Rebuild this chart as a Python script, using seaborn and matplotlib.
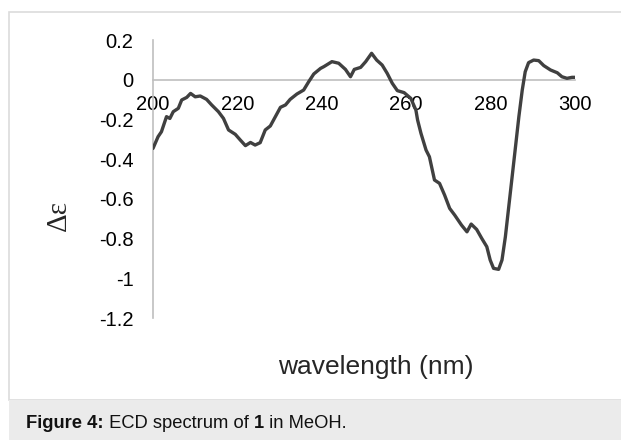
import matplotlib
matplotlib.use("Agg")
import matplotlib.pyplot as plt
import matplotlib.patches as mpatches
import numpy as np
import pandas as pd
import seaborn as sns

# ECD spectrum
wavelength = [
    200, 201.2, 202, 203.2, 204, 204.8, 206, 206.8, 208, 208.9,
    210, 211.2, 212.7, 213.9, 215.5, 216.7, 217.9, 219.5, 220.7, 221.9,
    223.1, 224.2, 225.4, 226.6, 227.8, 229, 230.2, 231.4, 232.5, 234.1,
    235.7, 236.9, 238.1, 239.7, 240.5, 242.4, 244, 245.6, 246.8, 247.7,
    249.2, 250.4, 251.8, 253, 254.3, 255.5, 256.7, 257.9, 259.5, 261.1,
    262.3, 262.7, 263.5, 264.7, 265.5, 266.7, 267.9, 269.1, 270.3, 271.5,
    273.1, 274.4, 275.4, 276.7, 277.9, 279.1, 279.9, 280.7, 281.9, 282.7,
    283.5, 284.3, 285.1, 285.9, 286.7, 287.5, 288.2, 289, 290.2, 291.4,
    292.6, 294.2, 295.8, 296.9, 298.1, 299.3, 300,
]
delta_eps = [
    -0.346, -0.287, -0.262, -0.186, -0.195, -0.161, -0.144, -0.102, -0.089, -0.069,
    -0.086, -0.082, -0.099, -0.127, -0.161, -0.195, -0.253, -0.275, -0.304, -0.332,
    -0.316, -0.329, -0.317, -0.253, -0.233, -0.186, -0.139, -0.127, -0.099, -0.072,
    -0.052, -0.010, 0.029, 0.057, 0.066, 0.091, 0.083, 0.052, 0.015, 0.052,
    0.062, 0.091, 0.133, 0.099, 0.074, 0.032, -0.018, -0.055, -0.065, -0.094,
    -0.153, -0.203, -0.270, -0.354, -0.388, -0.505, -0.522, -0.581, -0.648, -0.682,
    -0.732, -0.766, -0.727, -0.754, -0.799, -0.841, -0.908, -0.950, -0.955, -0.908,
    -0.791, -0.640, -0.489, -0.338, -0.186, -0.052, 0.040, 0.086, 0.099, 0.096,
    0.071, 0.049, 0.035, 0.015, 0.007, 0.012, 0.012,
]
x_ticks = [200, 220, 240, 260, 280, 300]
y_ticks = [0.2, 0, -0.2, -0.4, -0.6, -0.8, -1, -1.2]
y_ticklabels = ["0.2", "0", "-0.2", "-0.4", "-0.6", "-0.8", "-1", "-1.2"]

sns.set_theme(style="white")
plt.rcParams["font.family"] = ["Liberation Sans", "DejaVu Sans"]

df = pd.DataFrame({"wavelength": wavelength, "de": delta_eps})

fig = plt.figure(figsize=(6.21, 4.40), dpi=100)
fig.patch.set_facecolor("white")

# page frame and caption band
fig.patches.append(mpatches.Rectangle((9 / 621, 40 / 440), 1.0, 1 - 12 / 440 - 40 / 440,
                                      transform=fig.transFigure, facecolor="white",
                                      edgecolor="#dcdcdc", linewidth=1.2, zorder=-5))
fig.patches.append(mpatches.Rectangle((9 / 621, 0), 1.0, 40 / 440,
                                      transform=fig.transFigure, facecolor="#ebebeb",
                                      edgecolor="none", zorder=-5))

ax = fig.add_axes([153 / 621, 1 - 318 / 440, (575 - 153) / 621, (318 - 40) / 440])
ax.set_facecolor("none")
ax.set_zorder(2)

sns.lineplot(data=df, x="wavelength", y="de", ax=ax, color="#404040",
             linewidth=2.4, estimator=None, sort=False)

ax.set_xlim(200, 300)
ax.set_ylim(-1.2, 0.2)
ax.set_xticks(x_ticks)
ax.set_xticklabels([str(t) for t in x_ticks])
ax.set_yticks(y_ticks)
ax.set_yticklabels(y_ticklabels)

for side in ["top", "right"]:
    ax.spines[side].set_visible(False)
ax.spines["bottom"].set_position(("data", 0))
ax.spines["left"].set_position(("data", 200))
for side in ["bottom", "left"]:
    ax.spines[side].set_color("#bfbfbf")
    ax.spines[side].set_linewidth(1.2)
    ax.spines[side].set_zorder(1)

ax.tick_params(axis="x", length=0, pad=11, labelsize=14.5, colors="black")
ax.tick_params(axis="y", length=0, pad=14, labelsize=14.5, colors="black")
ax.grid(False)

ax.set_xlabel("wavelength (nm)", fontsize=19)
ax.xaxis.set_label_coords((376 - 153) / 422, (318 - 367) / 278)
ax.xaxis.label.set_va("center")
ax.set_ylabel("")

fig.text(59 / 621, 1 - 215 / 440, "Δε", rotation=90, ha="center", va="center",
         fontsize=21, family=["Liberation Serif", "DejaVu Serif"])

# caption with bold pieces
pieces = [("Figure 4:", "bold"), (" ECD spectrum of ", "normal"),
          ("1", "bold"), (" in MeOH.", "normal")]
renderer = fig.canvas.get_renderer()
x0 = 26
for txt, weight in pieces:
    t = fig.text(x0 / 621, 1 - 428 / 440, txt, fontsize=13.2, fontweight=weight,
                 ha="left", va="baseline", color="#111111")
    bb = t.get_window_extent(renderer=renderer)
    x0 = bb.x1

fig.savefig("out.png", dpi=100)
